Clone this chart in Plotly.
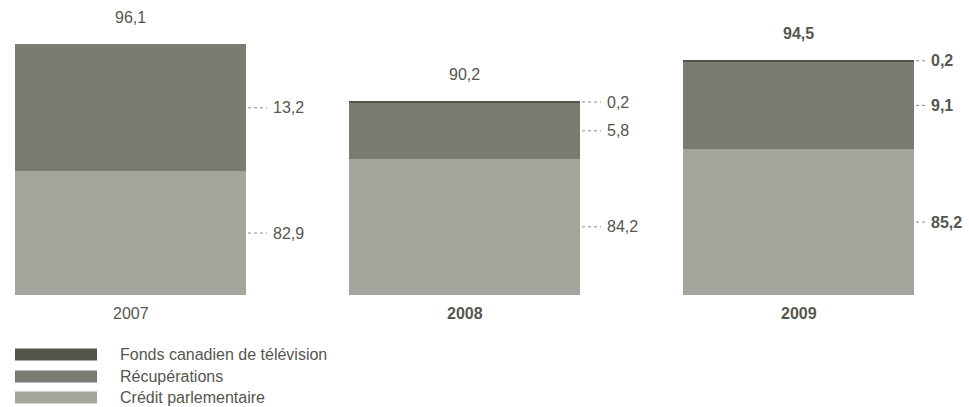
import plotly.graph_objects as go

# Financement (M$) par exercice
years = ["2007", "2008", "2009"]
credit_parlementaire = [82.9, 84.2, 85.2]
recuperations = [13.2, 5.8, 9.1]
fonds_canadien = [0.0, 0.2, 0.2]
totals = [96.1, 90.2, 94.5]
bold_years = [False, True, True]      # year caption in bold
bold_values = [False, False, True]    # value labels in bold

series_names = ["Fonds canadien de télévision", "Récupérations", "Crédit parlementaire"]
series_colors = ["#55544a", "#7c7b72", "#a6a59d"]

TEXT = "#56564e"
LEADER = "#8a8a84"
FONT = "Liberation Sans, Arial, sans-serif"

W, H = 969, 407
PX_PER_CAT = 334.0          # horizontal pixels between bar centres
BAR_W = 231.0 / PX_PER_CAT
Y_BASE = 70.0               # value at the bottom of the bars
PX_PER_UNIT = 9.6
PLOT_H = 295.0
LEADER_PX = [19, 19, 9]     # dotted leader length per bar

x = list(range(len(years)))

fig = go.Figure()
stack = [
    (credit_parlementaire, series_colors[2], series_names[2]),
    (recuperations, series_colors[1], series_names[1]),
    (fonds_canadien, series_colors[0], series_names[0]),
]
for vals, col, name in stack:
    fig.add_trace(go.Bar(
        x=x, y=vals, name=name, width=BAR_W,
        marker=dict(color=col, line=dict(width=0)),
        showlegend=False, hoverinfo="skip",
    ))

def fmt(v):
    return f"{v:.1f}".replace(".", ",")

def bold(s, on):
    return f"<b>{s}</b>" if on else s

annotations = []
shapes = []
edge_off = BAR_W / 2
for i, yr in enumerate(years):
    bv = bold_values[i]
    # total above the bar
    annotations.append(dict(
        x=i, y=totals[i], xref="x", yref="y", text=bold(fmt(totals[i]), bv),
        showarrow=False, yanchor="bottom", yshift=16,
        font=dict(family=FONT, size=16, color=TEXT),
    ))
    # year below the bar
    annotations.append(dict(
        x=i, y=Y_BASE, xref="x", yref="y", text=bold(yr, bold_years[i]),
        showarrow=False, yanchor="top", yshift=-8,
        font=dict(family=FONT, size=16, color=TEXT),
    ))
    # segment labels with dotted leaders
    segs = [(credit_parlementaire[i], credit_parlementaire[i] - Y_BASE),
            (recuperations[i], recuperations[i]),
            (fonds_canadien[i], fonds_canadien[i])]
    level = Y_BASE
    for val, height in segs:
        if val <= 0:
            continue
        mid = level + height / 2
        level += height
        x_edge = i + edge_off
        shapes.append(dict(
            type="line", xref="x", yref="y",
            x0=x_edge + 2 / PX_PER_CAT, x1=x_edge + (2 + LEADER_PX[i]) / PX_PER_CAT,
            y0=mid, y1=mid,
            line=dict(color=LEADER, width=1, dash="dot"),
        ))
        annotations.append(dict(
            x=x_edge + (6 + LEADER_PX[i]) / PX_PER_CAT, y=mid, xref="x", yref="y",
            text=bold(fmt(val), bv), showarrow=False,
            xanchor="left", yanchor="middle",
            font=dict(family=FONT, size=16, color=TEXT),
        ))

# legend drawn as wide swatches beneath the chart
def to_paper(py):
    return (PLOT_H - py) / PLOT_H

legend_rows = [354.5, 376.5, 397.5]
for name, col, cy in zip(series_names, series_colors, legend_rows):
    shapes.append(dict(
        type="rect", xref="paper", yref="paper",
        x0=15 / W, x1=97 / W, y0=to_paper(cy + 6), y1=to_paper(cy - 6),
        fillcolor=col, line=dict(width=0),
    ))
    annotations.append(dict(
        x=118 / W, y=to_paper(cy), xref="paper", yref="paper",
        text=name, showarrow=False, xanchor="left", yanchor="middle",
        font=dict(family=FONT, size=16, color=TEXT),
    ))

x0 = -130.5 / PX_PER_CAT
fig.update_layout(
    barmode="stack",
    width=W, height=H,
    margin=dict(l=0, r=0, t=0, b=H - PLOT_H, pad=0),
    paper_bgcolor="white", plot_bgcolor="white",
    xaxis=dict(range=[x0, x0 + W / PX_PER_CAT], visible=False, fixedrange=True),
    yaxis=dict(range=[Y_BASE, Y_BASE + PLOT_H / PX_PER_UNIT], visible=False, fixedrange=True),
    annotations=annotations,
    shapes=shapes,
    showlegend=False,
)

fig.write_html("out.html", config={"displayModeBar": False})
